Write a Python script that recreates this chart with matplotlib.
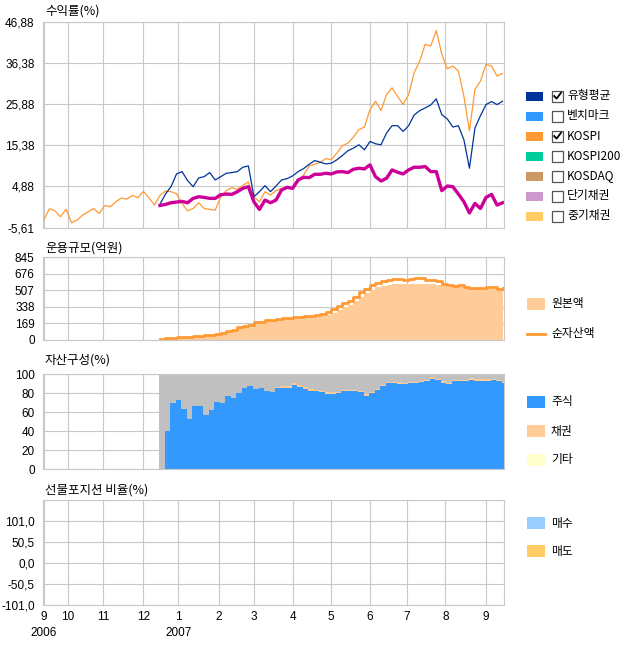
import numpy as np
import pandas as pd
import matplotlib
matplotlib.use('Agg')
import matplotlib.pyplot as plt
from matplotlib.patches import Rectangle

plt.rcParams['font.family'] = ['Noto Sans CJK KR', 'DejaVu Sans']
NUM_FONT = ['Liberation Sans Narrow', 'Liberation Sans', 'DejaVu Sans']

# 거래일 (KRX 휴장일 제외)
krx_holidays = ['2006-10-03', '2006-10-05', '2006-10-06', '2006-12-25', '2006-12-29',
                '2007-01-01', '2007-02-19', '2007-03-01', '2007-05-01', '2007-05-24',
                '2007-06-06', '2007-07-17', '2007-08-15']
days = pd.bdate_range('2006-09-13', '2007-09-14', freq='C', holidays=krx_holidays)
n_days = len(days)

# 3 거래일 간격으로 읽은 값
kospi_x = np.arange(0, n_days, 3)
kospi = [-3.57, -0.84, -1.35, -2.89, -0.93, -4.4, -3.74, -2.46, -1.61, -0.76,
         -2.04, 0.01, -0.33, 0.95, 1.89, 1.63, 2.57, 1.97, 3.60, 1.97,
         0.10, 2.6, 3.68, 3.51, 3.0, 0.5, -1.35, -0.76, 0.70, -0.76,
         -1.01, -1.18, 2.23, 3.77, 4.54, 4.11, 5.13, 5.99, 2.23, 0.95,
         3.51, 2.66, 3.77, 4.37, 4.37, 4.54, 6.07, 7.78, 10.09, 10.51,
         10.94, 11.96, 11.62, 13.33, 15.21, 15.89, 17.43, 19.31, 19.99, 24.43,
         26.56, 24.17, 28.27, 29.98, 27.84, 25.71, 28.27, 33.82, 36.81, 41.07,
         40.65, 44.58, 38.51, 34.84, 35.53, 34.24, 27.84, 19.0, 29.55, 31.69,
         35.95, 35.53, 32.97, 33.65]

fund_x = np.arange(63, n_days, 3)
type_avg = [0.3, 2.92, 4.79, 8.04, 8.63, 6.33, 4.79, 7.01, 7.35, 8.38,
            6.50, 7.35, 8.21, 8.38, 8.63, 9.74, 10.09, 2.23, 3.51, 5.05,
            3.51, 4.96, 6.50, 6.84, 7.53, 8.63, 9.40, 10.51, 11.45, 11.03,
            10.60, 10.77, 11.62, 12.73, 13.93, 14.61, 15.47, 14.18, 16.32, 15.72,
            15.47, 18.45, 20.33, 20.33, 18.88, 20.33, 23.06, 24.17, 24.86, 25.62,
            27.16, 23.15, 22.04, 19.99, 20.33, 16.74, 9.5, 19.73, 22.89, 25.71,
            26.48, 25.71, 26.56]
fund_ret = [0.0, 0.27, 0.70, 0.87, 1.04, 0.70, 1.81, 2.23, 2.06, 1.81,
            1.81, 2.74, 2.92, 2.83, 3.51, 4.37, 4.79, 0.95, -1.01, 1.38,
            0.70, 1.38, 3.94, 4.62, 4.37, 6.50, 7.18, 7.10, 7.95, 7.95,
            8.21, 8.04, 8.55, 8.63, 8.38, 9.23, 9.49, 9.32, 10.34, 7.35,
            6.24, 6.93, 9.06, 8.46, 8.04, 9.06, 9.74, 9.74, 9.92, 8.63,
            8.63, 3.77, 4.96, 4.79, 2.92, 0.95, -1.9, 0.53, -0.76, 2.06,
            2.83, 0.10, 0.70]

# 운용규모(억원)
principal = [10, 18, 21, 22, 31, 31, 32, 38, 42, 51, 55, 70, 83, 100, 124, 138, 148, 172, 180, 196,
             197, 204, 210, 214, 222, 225, 230, 235, 240, 246, 256, 280, 305, 335, 358, 395, 440, 478,
             511, 540, 555, 565, 572, 574, 574, 574, 574, 574, 574, 572, 563, 550, 546, 546, 541, 536,
             530, 525, 519, 523, 521, 513, 508]
nav = [14, 22, 25, 26, 35, 35, 36, 42, 46, 56, 60, 75, 88, 106, 130, 145, 155, 180, 187, 204,
       205, 213, 220, 225, 236, 238, 243, 250, 258, 264, 285, 315, 345, 375, 400, 440, 495, 525,
       560, 585, 600, 614, 625, 622, 616, 627, 630, 630, 616, 609, 600, 576, 565, 550, 565, 540,
       530, 530, 530, 542, 540, 525, 530]

# 자산구성(%)
stock = [0, 40, 70, 73, 63, 53, 66, 67, 57, 62, 71, 70, 77, 75, 80, 86, 88, 85, 86, 82,
         81, 86, 86, 86, 89, 87, 85, 82.5, 82, 81, 79, 79.5, 80, 82, 82.5, 82, 81, 77.5,
         80, 83, 88, 91, 90.5, 90.2, 89.8, 90.5, 90.5, 91.5, 93, 95.5, 93.5, 91, 89.8, 92.5,
         93, 93.3, 94.5, 93.3, 93.3, 93.3, 94, 93, 90.5]
bond = [0] * 21 + [1.0, 1.5, 1.2, 1.5, 1.4, 1.5, 1.6, 1.4, 1.5, 1.8, 1.6, 1.5, 1.5, 1.3,
                   1.4, 1.5, 1.4, 1.3, 1.5, 1.2, 1.3, 1.0, 1.2, 1.0, 1.2, 1.3, 1.4, 1.2,
                   1.3, 1.2, 1.5, 1.4, 1.2, 1.1, 1.2, 1.3, 1.5, 1.4, 1.3, 1.2, 1.4, 1.5]

ret_ticks = [-5.61, 4.88, 15.38, 25.88, 36.38, 46.88]
size_ticks = [0, 169, 338, 507, 676, 845]
mix_ticks = [0, 20, 40, 60, 80, 100]
fut_ticks = [-101.0, -50.5, 0.0, 50.5, 101.0]

legend1 = [('유형평균', '#003399', True), ('벤치마크', '#3399FF', False), ('KOSPI', '#FF9933', True),
           ('KOSPI200', '#00CC99', False), ('KOSDAQ', '#CC9966', False),
           ('단기채권', '#CC99CC', False), ('중기채권', '#FFCC66', False)]
legend3 = [('주식', '#3399FF'), ('채권', '#FFCC99'), ('기타', '#FFFFCC')]
legend4 = [('매수', '#99CCFF'), ('매도', '#FFCC66')]

W, H = 624, 649
GRID = '#c8c8c8'
fig = plt.figure(figsize=(W / 100, H / 100), dpi=100)


def add_panel(left, top, right, bottom):
    return fig.add_axes([left / W, 1 - bottom / H, (right - left) / W, (bottom - top) / H])


month_idx = np.flatnonzero(np.r_[True, days.month[1:] != days.month[:-1]])
month_lab = []
for k in month_idx:
    d = days[k]
    lab = str(d.month)
    if k == 0 or d.month == 1:
        lab += '\n' + str(d.year)
    month_lab.append(lab)


def style(ax, ticks, labels, ylim):
    ax.set_xlim(-0.5, n_days - 0.5)
    ax.set_ylim(*ylim)
    ax.set_xticks(month_idx)
    ax.set_yticks(ticks)
    ax.set_yticklabels(labels, fontfamily=NUM_FONT, fontsize=8.5)
    ax.tick_params(axis='both', length=0)
    ax.tick_params(axis='y', pad=6)
    ax.set_xticklabels([])
    ax.grid(True, color=GRID, linewidth=0.8)
    ax.set_axisbelow(True)
    for s in ax.spines.values():
        s.set_color(GRID)
        s.set_linewidth(0.8)


# 수익률
ax1 = add_panel(43, 21.5, 503.5, 227.5)
style(ax1, ret_ticks, [f'{v:.2f}'.replace('.', ',') for v in ret_ticks], (-5.61, 46.88))
ax1.plot(kospi_x, kospi, color='#FF9933', lw=0.9)
ax1.plot(fund_x, type_avg, color='#003399', lw=0.9)
ax1.plot(fund_x, fund_ret, color='#CC0099', lw=2.4)

# 운용규모
ax2 = add_panel(43, 257.3, 503.5, 340)
style(ax2, size_ticks, [str(v) for v in size_ticks], (0, 845))
ax2.fill_between(fund_x, principal, step='post', color='#FFCC99', lw=0)
ax2.step(fund_x, nav, where='post', color='#FF9933', lw=2)

# 자산구성
ax3 = add_panel(43, 374.3, 503.5, 469)
style(ax3, mix_ticks, [str(v) for v in mix_ticks], (0, 100))
ax3.bar(fund_x - 0.5, 100, width=3, align='edge', color='#C0C0C0', lw=0)
ax3.bar(fund_x - 0.5, stock, width=3, align='edge', color='#3399FF', lw=0)
ax3.bar(fund_x - 0.5, bond, width=3, align='edge', bottom=stock, color='#FFCC99', lw=0)

# 선물포지션 비율
ax4 = add_panel(43, 500, 503.5, 605)
style(ax4, fut_ticks, [f'{v:.1f}'.replace('.', ',') for v in fut_ticks], (-101, 151.5))
ax4.set_xticklabels(month_lab, fontfamily=NUM_FONT, fontsize=8.5, linespacing=1.45, va='top')
ax4.tick_params(axis='x', pad=4)

# 제목과 범례 (픽셀 좌표)
ov = fig.add_axes([0, 0, 1, 1])
ov.set_xlim(0, W)
ov.set_ylim(H, 0)
ov.axis('off')

for y, t in [(11, '수익률(%)'), (248, '운용규모(억원)'), (360, '자산구성(%)'), (490, '선물포지션 비율(%)')]:
    ov.text(45, y, t, fontsize=9, va='center', ha='left')

for k, (name, col, checked) in enumerate(legend1):
    yc = 96 + 20 * k
    ov.add_patch(Rectangle((526, yc - 4.5), 17, 9, color=col, lw=0))
    ov.add_patch(Rectangle((552, yc - 5.5), 11, 11, facecolor='white', edgecolor='#555555', lw=0.9))
    if checked:
        ov.plot([554.2, 556.6, 561], [yc, yc + 2.6, yc - 3.2], color='black', lw=1.3)
    ov.text(567, yc, name, fontsize=8.5, va='center', ha='left')

ov.add_patch(Rectangle((527, 298), 18, 12, color='#FFCC99', lw=0))
ov.text(551, 304, '원본액', fontsize=8.5, va='center', ha='left')
ov.plot([527, 545], [334, 334], color='#FF9933', lw=2)
ov.text(551, 334, '순자산액', fontsize=8.5, va='center', ha='left')

for k, (name, col) in enumerate(legend3):
    yc = 402 + 29 * k
    ov.add_patch(Rectangle((527, yc - 6), 18, 12, color=col, lw=0))
    ov.text(551, yc, name, fontsize=8.5, va='center', ha='left')

for k, (name, col) in enumerate(legend4):
    yc = 523 + 28 * k
    ov.add_patch(Rectangle((527, yc - 6), 18, 12, color=col, lw=0))
    ov.text(551, yc, name, fontsize=8.5, va='center', ha='left')

fig.savefig('out.png', dpi=100)
